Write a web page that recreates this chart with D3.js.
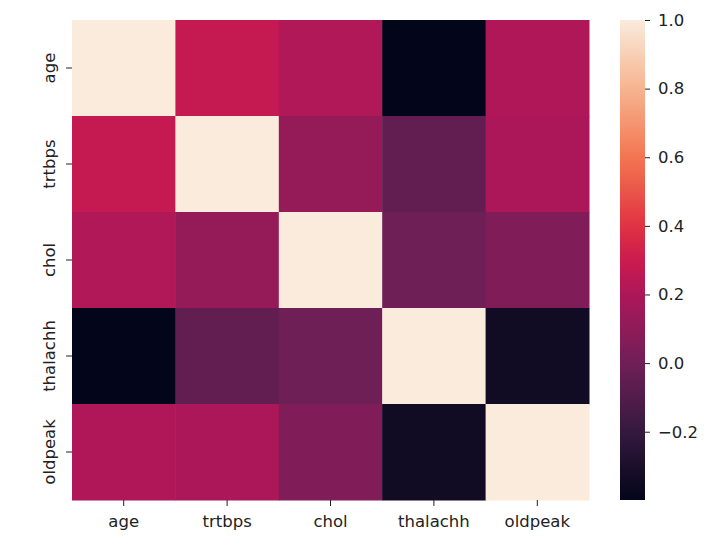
<!DOCTYPE html>
<html>
<head>
<meta charset="utf-8">
<script src="https://cdn.jsdelivr.net/npm/d3@7"></script>
<style>
  body { margin: 0; background: #fff; }
  text { font-family: "DejaVu Sans", sans-serif; }
</style>
</head>
<body>
<svg id="chart" width="726" height="559"></svg>
<script>
const labels = ['age', 'trtbps', 'chol', 'thalachh', 'oldpeak'];
const corr = [
  [1.000, 0.279, 0.214, -0.399, 0.210],
  [0.279, 1.000, 0.123, -0.047, 0.193],
  [0.214, 0.123, 1.000, -0.010, 0.054],
  [-0.399, -0.047, -0.010, 1.000, -0.344],
  [0.210, 0.193, 0.054, -0.344, 1.000]
];
const cbarTicks = [-0.2, 0.0, 0.2, 0.4, 0.6, 0.8, 1.0];
// seaborn "rocket" sampled stops
const rocketPos = [0, 1 / 7, 2 / 7, 3 / 7, 0.5, 4 / 7, 5 / 7, 6 / 7, 1];
const rocket = ['#03051a', '#35193e', '#701f57', '#ad1759', '#cb1b4f', '#e13342', '#f37651', '#f6b48f', '#faebdd'];

const vmin = d3.min(corr.flat());
const vmax = d3.max(corr.flat());

const svg = d3.select('#chart');
const pLeft = 72, pTop = 20, pRight = 589, pBottom = 500;
const fs = '16.5px';

const interp = d3.scaleLinear().domain(rocketPos).range(rocket).interpolate(d3.interpolateRgb);
const colour = d3.scaleLinear().domain([vmin, vmax]).range([0, 1]);

const x = d3.scaleBand().domain(labels).range([pLeft, pRight]);
const y = d3.scaleBand().domain(labels).range([pTop, pBottom]);

const cells = [];
corr.forEach((row, i) => row.forEach((v, j) => cells.push({ r: labels[i], c: labels[j], v })));

svg.append('g').selectAll('rect')
  .data(cells)
  .join('rect')
  .attr('x', d => x(d.c))
  .attr('y', d => y(d.r))
  .attr('width', x.bandwidth() + 0.5)
  .attr('height', y.bandwidth() + 0.5)
  .attr('fill', d => interp(colour(d.v)));

const xAxis = svg.append('g')
  .attr('transform', `translate(0,${pBottom})`)
  .call(d3.axisBottom(x).tickSize(6).tickPadding(9.5));
const yAxis = svg.append('g')
  .attr('transform', `translate(${pLeft},0)`)
  .call(d3.axisLeft(y).tickSize(6).tickPadding(6));

[xAxis, yAxis].forEach(a => {
  a.select('.domain').remove();
  a.selectAll('.tick line').attr('stroke', '#222').attr('stroke-width', 1);
  a.selectAll('.tick text').style('font-size', fs).attr('fill', '#222');
});
yAxis.selectAll('.tick text')
  .attr('text-anchor', 'middle')
  .attr('x', 0).attr('dy', 0)
  .attr('transform', 'translate(-17,0) rotate(-90)');

// colour bar
const cbLeft = 620, cbWidth = 25;
const cy = d3.scaleLinear().domain([vmin, vmax]).range([pBottom, pTop]);
const defs = svg.append('defs');
const grad = defs.append('linearGradient')
  .attr('id', 'cbar').attr('x1', 0).attr('y1', 1).attr('x2', 0).attr('y2', 0);
d3.range(0, 1.0001, 0.02).forEach(t => {
  grad.append('stop').attr('offset', t).attr('stop-color', interp(t));
});
svg.append('rect')
  .attr('x', cbLeft).attr('y', pTop)
  .attr('width', cbWidth).attr('height', pBottom - pTop)
  .attr('fill', 'url(#cbar)');

const cAxis = svg.append('g')
  .attr('transform', `translate(${cbLeft + cbWidth},0)`)
  .call(d3.axisRight(cy).tickValues(cbarTicks).tickSize(5).tickPadding(8)
    .tickFormat(d => d3.format('.1f')(d).replace('-', '\u2212')));
cAxis.select('.domain').remove();
cAxis.selectAll('.tick line').attr('stroke', '#222');
cAxis.selectAll('.tick text').style('font-size', fs).attr('fill', '#222');
</script>
</body>
</html>
